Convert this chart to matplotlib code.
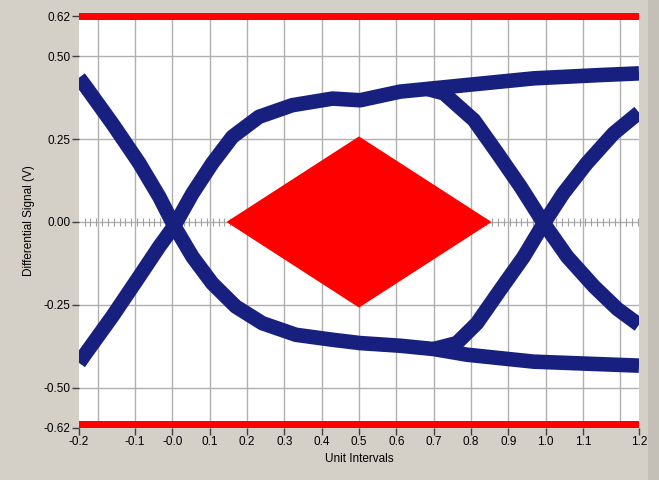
# eye diagram with mask, redrawn from the scope screenshot
import matplotlib.pyplot as plt
import numpy as np
from matplotlib.patches import Polygon, Rectangle

# traces (unit intervals, volts)
fall_x = [-0.25, -0.232, -0.161, -0.089, -0.035, 0.005, 0.054, 0.107, 0.170, 0.241, 0.331, 0.429,
          0.503, 0.61, 0.70, 0.789, 0.968, 1.25]
fall_y = [0.435, 0.408, 0.297, 0.178, 0.076, -0.012, -0.105, -0.185, -0.255, -0.305, -0.340, -0.355,
          -0.365, -0.373, -0.383, -0.400, -0.421, -0.433]

rise_x = [-0.25, -0.232, -0.161, -0.089, -0.035, 0.005, 0.054, 0.107, 0.161, 0.232, 0.321, 0.429,
          0.503, 0.61, 0.70, 0.789, 0.968, 1.147, 1.25]
rise_y = [-0.425, -0.396, -0.285, -0.165, -0.074, -0.012, 0.086, 0.177, 0.257, 0.317, 0.352, 0.372,
          0.367, 0.393, 0.403, 0.413, 0.433, 0.443, 0.448]

# high level falling at the second crossing
hf_x = [0.68, 0.727, 0.808, 0.871, 0.933, 0.995, 1.058, 1.130, 1.192, 1.25]
hf_y = [0.402, 0.388, 0.307, 0.207, 0.106, -0.004, -0.105, -0.195, -0.262, -0.31]

# low level rising at the second crossing
lr_x = [0.70, 0.762, 0.816, 0.878, 0.941, 0.995, 1.047, 1.110, 1.182, 1.25]
lr_y = [-0.383, -0.365, -0.305, -0.205, -0.105, -0.004, 0.086, 0.177, 0.267, 0.33]

# mask
mask_x = [0.145, 0.5, 0.855, 0.5]
mask_y = [0.0, 0.258, 0.0, -0.258]
mask_lim = 0.61

grid_x = [-0.2, -0.1, 0.0, 0.1, 0.2, 0.3, 0.4, 0.5, 0.6, 0.7, 0.8, 0.9, 1.0, 1.1, 1.2]
grid_y = [-0.5, -0.25, 0.0, 0.25, 0.5]
xticks = [-0.25, -0.1, 0.0, 0.1, 0.2, 0.3, 0.4, 0.5, 0.6, 0.7, 0.8, 0.9, 1.0, 1.1, 1.25]
xlabels = ['-0.2', '-0.1', '-0.0', '0.1', '0.2', '0.3', '0.4', '0.5', '0.6', '0.7', '0.8', '0.9', '1.0', '1.1', '1.2']
yticks = [-0.62, -0.5, -0.25, 0.0, 0.25, 0.5, 0.62]
ylabels = ['-0.62', '-0.50', '-0.25', '0.00', '0.25', '0.50', '0.62']

plt.rcParams['font.family'] = ['Liberation Sans', 'DejaVu Sans']

bg = '#d4d0c8'
fig = plt.figure(figsize=(6.59, 4.8), dpi=100, facecolor=bg)
fig.patches.append(Rectangle((648 / 659, 0), 11 / 659, 1, transform=fig.transFigure,
                             facecolor='#c4c0b8', edgecolor='none'))
ax = fig.add_axes([79 / 659, 1 - 428 / 480, 560 / 659, 415 / 480])
ax.set_facecolor('white')
ax.set_xlim(-0.25, 1.25)
ax.set_ylim(-0.621, 0.63)

# grid
for gx in grid_x:
    ax.axvline(gx, color='#b0b0b0', lw=1.0, zorder=0.5)
for gy in grid_y:
    ax.axhline(gy, color='#b0b0b0', lw=1.0, zorder=0.5)

# small ticks along the zero line
zt = np.arange(-0.235, 1.25, 0.0156)
ax.plot(zt, np.zeros_like(zt), ls='none', marker='|', ms=6, mew=0.8, color='#a0a0a0', zorder=1)

ax.set_xticks(xticks)
ax.set_xticklabels(xlabels)
ax.set_yticks(yticks)
ax.set_yticklabels(ylabels)
ax.tick_params(which='major', length=5, width=1, color='#404040', labelsize=8.5, pad=1)
for s in ax.spines.values():
    s.set_visible(False)

# mask regions
ax.add_patch(Polygon(list(zip(mask_x, mask_y)), closed=True, facecolor='#ff0000', edgecolor='none', zorder=2))
ax.axhspan(mask_lim, 0.63, color='#ff0000', lw=0, zorder=2)
ax.axhspan(-0.621, -0.601, color='#ff0000', lw=0, zorder=2)

# eye traces
navy = '#18207f'
for xs, ys in [(fall_x, fall_y), (rise_x, rise_y), (hf_x, hf_y), (lr_x, lr_y)]:
    ax.plot(xs, ys, color=navy, lw=10.5, solid_joinstyle='round', solid_capstyle='butt', zorder=3)

ax.set_xlabel('Unit Intervals', fontsize=8.5, labelpad=3)
ax.set_ylabel('Differential Signal (V)', fontsize=8.5, labelpad=6)

fig.savefig('out.png', dpi=100, facecolor=bg)
